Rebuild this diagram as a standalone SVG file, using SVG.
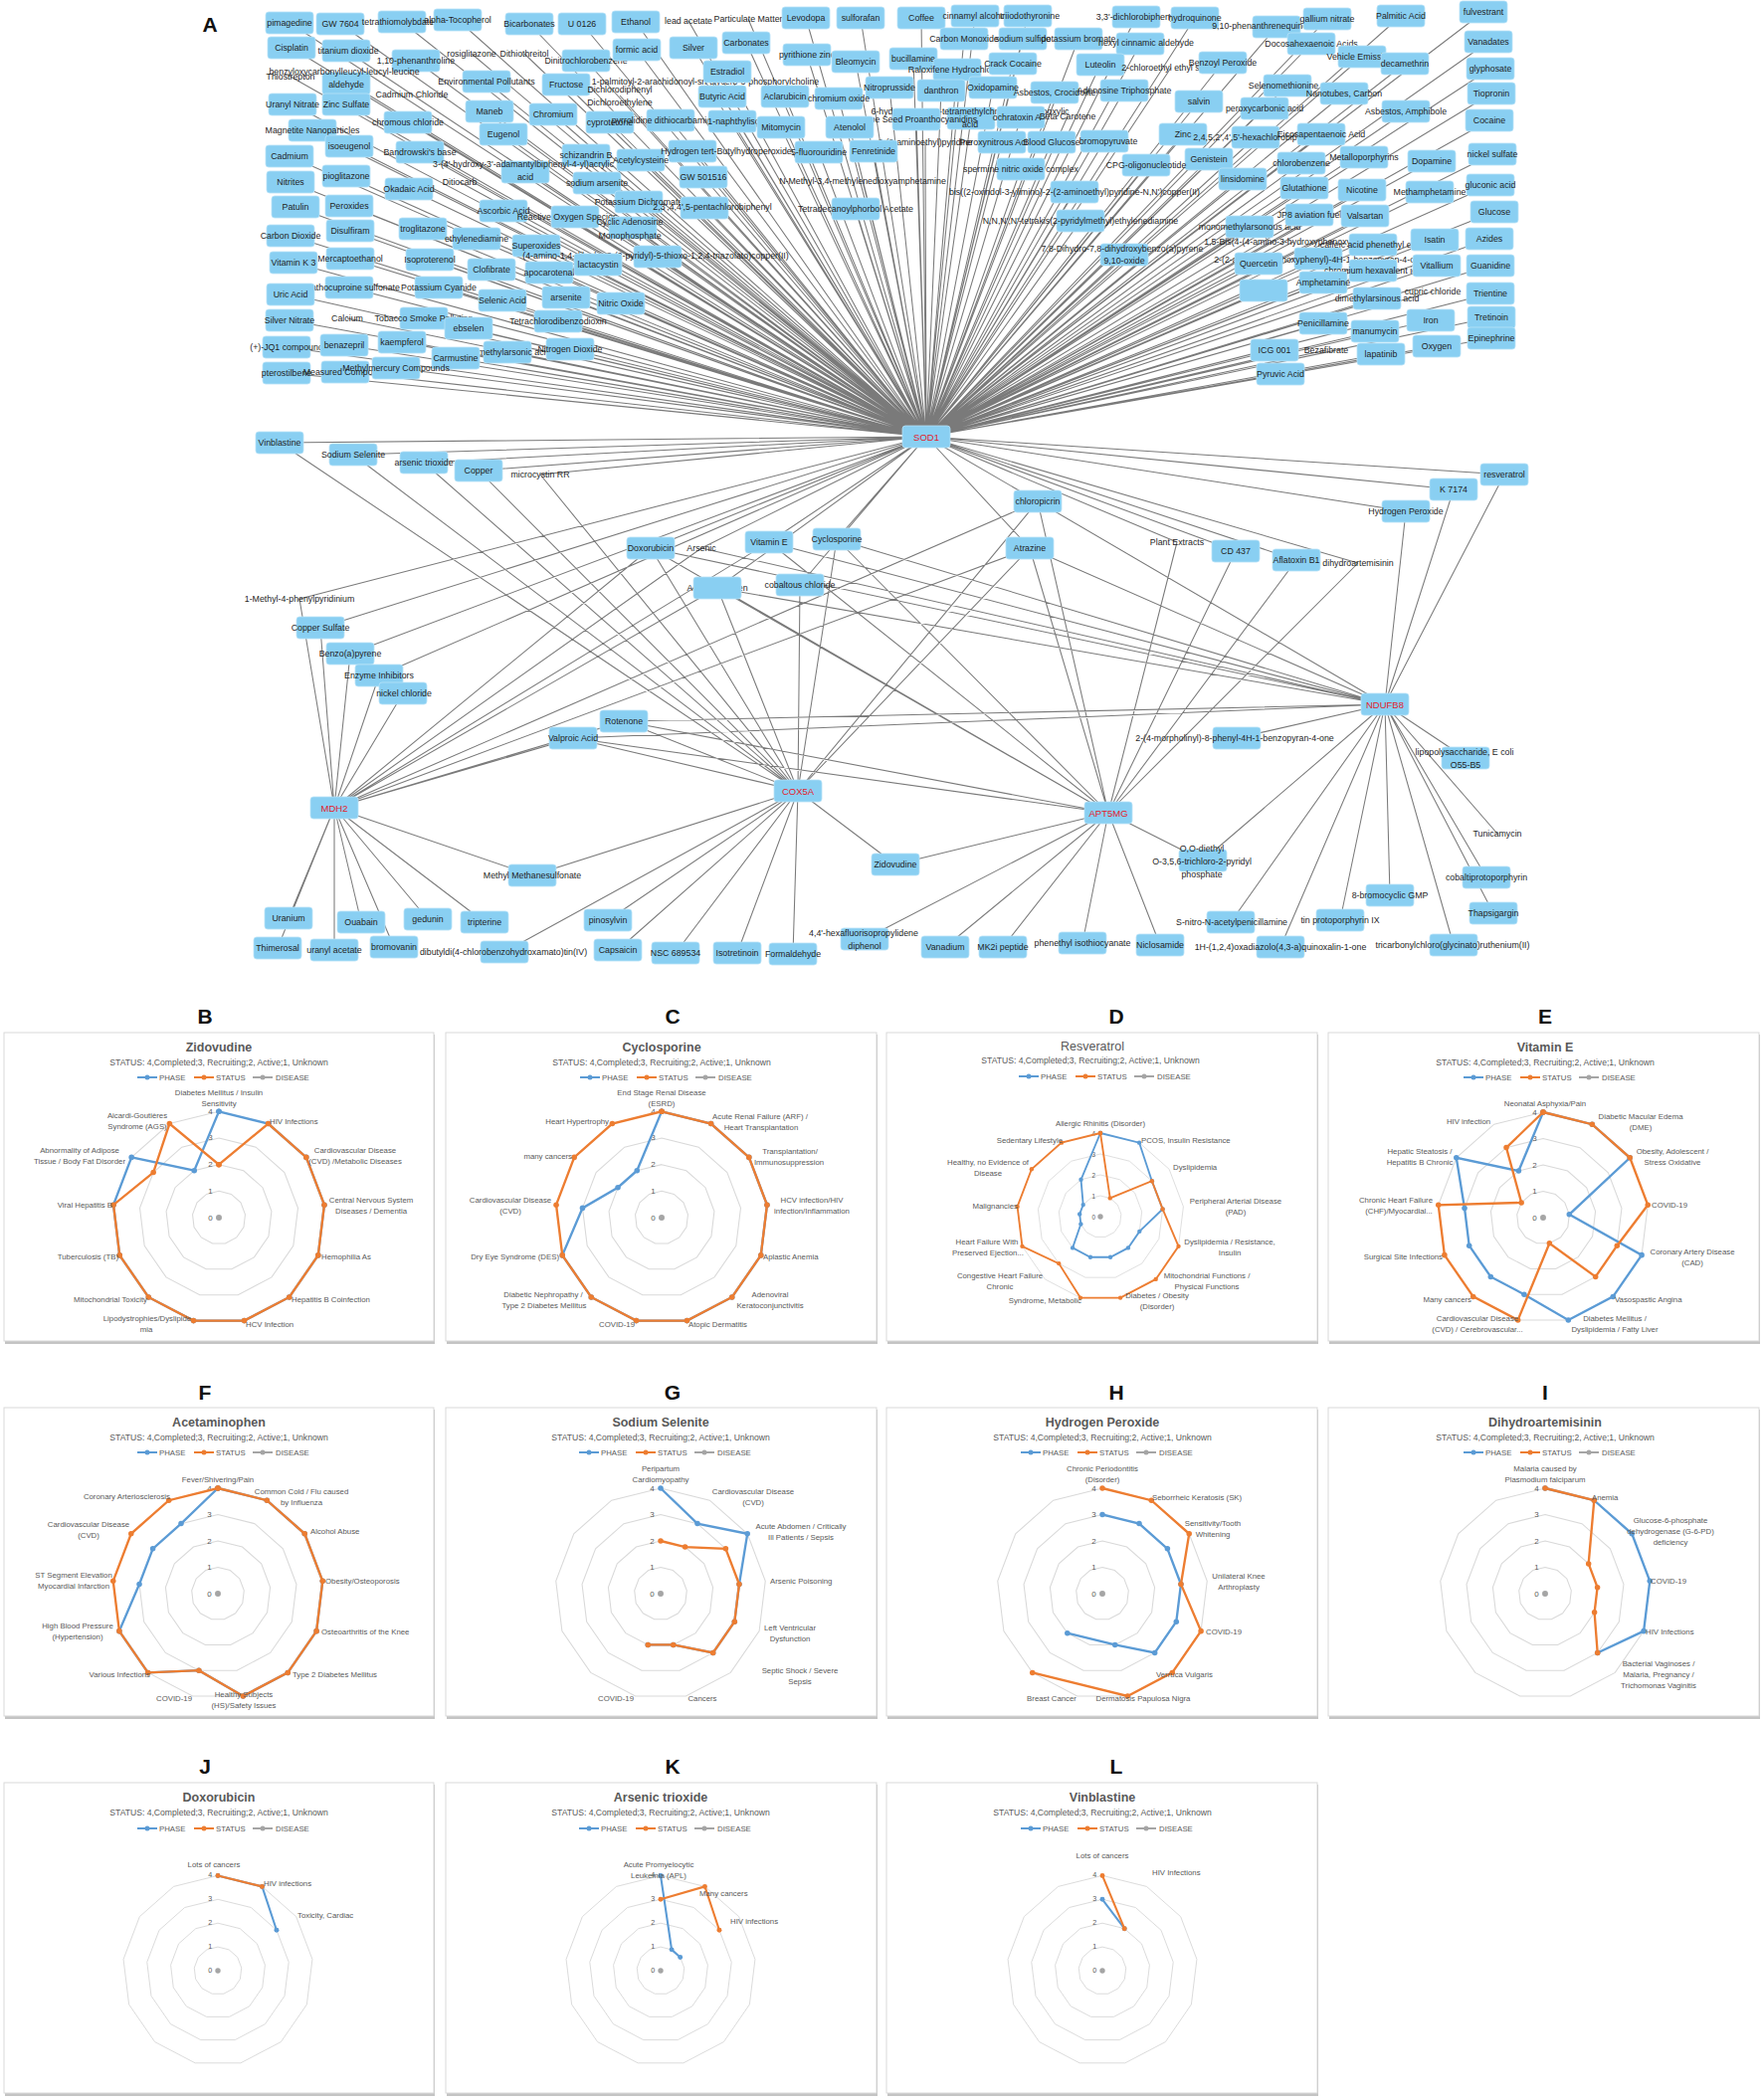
<svg xmlns="http://www.w3.org/2000/svg" xmlns:xlink="http://www.w3.org/1999/xlink" width="1772" height="2111" viewBox="0 0 1772 2111">
<style>
svg text{font-family:"Liberation Sans",Arial,sans-serif;dominant-baseline:central}
.net text{font-size:8.8px;fill:#1e1e1e;text-anchor:middle}
.bx{fill:#89CFF2;stroke:#b8e2f8;stroke-width:0.8}
.net text.gn{fill:#e3202b;font-size:9.5px}
.ed{stroke:#7a7a7a;stroke-width:1.05;fill:none}
.pf{fill:#fff;stroke:#d9d9d9;stroke-width:1}
.sh{fill:#c4c4c4}
.plet{font-size:21px;font-weight:bold;text-anchor:middle;fill:#111}
.pt{font-size:12.5px;font-weight:bold;fill:#595959;text-anchor:middle}
.nb{font-weight:normal}
.ps{font-size:8.6px;fill:#595959;text-anchor:middle}
.lg text{font-size:7.8px;fill:#595959}
.al text{font-size:7.8px;fill:#595959}
.m{text-anchor:middle}.s{text-anchor:start}.e{text-anchor:end}
.vl text{font-size:7.5px;fill:#595959;text-anchor:end}
.grid polygon{fill:none;stroke:#d9d9d9;stroke-width:1}
.ph{fill:none;stroke:#5B9BD5;stroke-width:2.2;marker-start:url(#mB);marker-mid:url(#mB);marker-end:url(#mB)}
.st{fill:none;stroke:#ED7D31;stroke-width:2.2;marker-start:url(#mO);marker-mid:url(#mO);marker-end:url(#mO)}
.dz{fill:#A5A5A5}
</style>
<defs>
<rect id="b" class="bx" width="48" height="22" rx="3"/>
<marker id="mB" viewBox="-3 -3 6 6" markerWidth="6" markerHeight="6" markerUnits="userSpaceOnUse" overflow="visible"><circle r="2.6" fill="#5B9BD5"/></marker>
<marker id="mO" viewBox="-3 -3 6 6" markerWidth="6" markerHeight="6" markerUnits="userSpaceOnUse" overflow="visible"><circle r="2.6" fill="#ED7D31"/></marker>
<g id="grid">
<g class="grid">
<polygon points="0,-100 46.5,-88.5 82.3,-56.8 99.3,-12 93.5,35.5 66.3,74.9 23.9,97.1 -23.9,97.1 -66.3,74.9 -93.5,35.5 -99.3,-12 -82.3,-56.8 -46.5,-88.5"/>
<polygon points="0,-75 34.9,-66.4 61.7,-42.6 74.5,-9 70.1,26.6 49.7,56.1 18,72.8 -18,72.8 -49.7,56.1 -70.1,26.6 -74.5,-9 -61.7,-42.6 -34.9,-66.4"/>
<polygon points="0,-50 23.2,-44.3 41.2,-28.4 49.6,-6 46.8,17.7 33.2,37.4 12,48.5 -12,48.5 -33.2,37.4 -46.8,17.7 -49.6,-6 -41.2,-28.4 -23.2,-44.3"/>
<polygon points="0,-25 11.6,-22.1 20.6,-14.2 24.8,-3 23.4,8.9 16.6,18.7 6,24.3 -6,24.3 -16.6,18.7 -23.4,8.9 -24.8,-3 -20.6,-14.2 -11.6,-22.1"/>
</g>
<g class="vl"><text x="-6" y="-100">4</text><text x="-6" y="-75">3</text><text x="-6" y="-50">2</text><text x="-6" y="-25">1</text><text x="-6" y="0">0</text></g>
</g>
<g id="leg" class="lg">
<line x1="-82" y1="0" x2="-62" y2="0" stroke="#5B9BD5" stroke-width="2"/><circle cx="-72" r="2.5" fill="#5B9BD5"/><text x="-60" y="0">PHASE</text>
<line x1="-25" y1="0" x2="-5" y2="0" stroke="#ED7D31" stroke-width="2"/><circle cx="-15" r="2.5" fill="#ED7D31"/><text x="-3" y="0">STATUS</text>
<line x1="34" y1="0" x2="54" y2="0" stroke="#A5A5A5" stroke-width="2"/><circle cx="44" r="2.5" fill="#A5A5A5"/><text x="57" y="0">DISEASE</text>
</g>
</defs>
<rect width="1772" height="2111" fill="#fff"/>
<text x="211" y="24" class="plet">A</text>

<g id="connectors">
<path class="ed" d="M931 439L291 23M931 439L342 24M931 439L404 22M931 439L460 20M931 439L532 24M931 439L585 24M931 439L639 22M931 439L692 21M931 439L752 19M931 439L810 18M931 439L865 18M931 439L926 18M931 439L980 16M931 439L1033 16M931 439L1142 17M931 439L1201 18M931 439L1283 27M931 439L1334 19M931 439L1408 16M931 439L1491 12M931 439L293 48M931 439L348 51M931 439L418 61M931 439L474 54M931 439L527 54M931 439L589 61M931 439L640 50M931 439L697 48M931 439L750 43M931 439L811 55M931 439L860 62M931 439L918 59M931 439L969 39M931 439L1028 39M931 439L1084 39M931 439L1146 44M931 439L962 70M931 439L1018 64M931 439L1106 65M931 439L1177 68M931 439L1229 63M931 439L1318 44M931 439L1369 57M931 439L1412 64M931 439L1496 42M931 439L1498 69M931 439L348 84M931 439L292 77M931 439L489 82M931 439L569 85M931 439L709 82M931 439L623 96M931 439L731 72M931 439L894 88M931 439L946 91M931 439L998 88M931 439L1060 93M931 439L1130 91M931 439L1205 102M931 439L1294 86M931 439L1271 109M931 439L1351 94M931 439L1413 112M931 439L1499 94M931 439L1497 121M931 439L294 105M931 439L348 105M931 439L414 95M931 439L492 112M931 439L556 115M931 439L726 97M931 439L789 97M931 439L843 99M931 439L976 119M931 439L921 120M931 439L1026 118M931 439L1073 117M931 439L314 131M931 439L410 123M931 439L506 135M931 439L613 123M931 439L674 121M931 439L736 122M931 439L785 128M931 439L854 128M931 439L1189 135M931 439L1262 138M931 439L1328 135M931 439L1007 143M931 439L1057 143M931 439L1110 142M931 439L930 143M931 439L351 147M931 439L422 153M931 439L291 157M931 439L589 156M931 439L644 161M931 439L696 152M931 439L823 153M931 439L878 152M931 439L1215 160M931 439L1308 164M931 439L1371 158M931 439L1439 162M931 439L1500 155M931 439L528 173M931 439L600 184M931 439L348 177M931 439L292 183M931 439L462 183M931 439L411 190M931 439L707 178M931 439L1152 166M931 439L1249 180M931 439L1026 170M931 439L867 182M931 439L1080 193M931 439L1311 189M931 439L1369 191M931 439L1437 193M931 439L1498 186M931 439L297 208M931 439L351 207M931 439L292 237M931 439L352 232M931 439L425 230M931 439L479 240M931 439L506 212M931 439L578 218M931 439L642 203M931 439L636 229M931 439L708 209M931 439L539 247M931 439L661 258M931 439L352 260M931 439L295 264M931 439L432 261M931 439L494 271M931 439L552 274M931 439L601 266M931 439L351 289M931 439L441 289M931 439L292 296M931 439L505 302M931 439L569 299M931 439L624 305M931 439L291 322M931 439L349 320M931 439L426 320M931 439L471 330M931 439L561 323M931 439L288 349M931 439L346 347M931 439L404 344M931 439L510 354M931 439L573 351M931 439L458 360M931 439L288 375M931 439L347 374M931 439L398 370M931 439L860 210M931 439L1086 222M931 439L1130 256M931 439L1256 228M931 439L1300 243M931 439L1325 260M931 439L1265 265M931 439L1270 292M931 439L1281 352M931 439L1287 376M931 439L1316 216M931 439L1372 217M931 439L1502 213M931 439L1380 246M931 439L1442 241M931 439L1497 240M931 439L1380 272M931 439L1444 267M931 439L1498 267M931 439L1330 284M931 439L1384 300M931 439L1440 293M931 439L1498 295M931 439L1330 325M931 439L1382 333M931 439L1438 322M931 439L1499 319M931 439L1499 340M931 439L1333 352M931 439L1388 356M931 439L1444 348"/>
<path class="ed" d="M931 439L281 445M931 439L355 457M931 439L426 465M931 439L481 473M931 439L543 477M931 439L301 602M931 439L322 631M931 439L352 657M931 439L381 679M931 439L654 551M931 439L705 551M931 439L773 545M931 439L841 542M931 439L721 591M931 439L804 588M931 439L1043 504M931 439L1035 551M931 439L1183 545M931 439L1242 554M931 439L1303 563M931 439L1365 566M931 439L1413 514M931 439L1461 492M931 439L1512 477
M336 812L301 602M336 812L322 631M336 812L352 657M336 812L381 679M336 812L405 697M336 812L654 551M336 812L705 551M336 812L773 545M336 812L721 591M336 812L576 742M336 812L627 725M336 812L1043 504M336 812L1035 551M336 812L535 880M336 812L290 923M336 812L279 953M336 812L336 955M336 812L363 927M336 812L396 952M336 812L430 924M336 812L487 927
M802 795L281 445M802 795L355 457M802 795L426 465M802 795L481 473M802 795L543 477M802 795L654 551M802 795L721 591M802 795L804 588M802 795L841 542M802 795L1043 504M802 795L1035 551M802 795L576 742M802 795L627 725M802 795L535 880M802 795L900 869M802 795L507 957M802 795L611 925M802 795L621 955M802 795L679 958M802 795L741 958M802 795L797 959
M1114 817L654 551M1114 817L773 545M1114 817L841 542M1114 817L1043 504M1114 817L1035 551M1114 817L1183 545M1114 817L1242 554M1114 817L1303 563M1114 817L1365 566M1114 817L576 742M1114 817L627 725M1114 817L721 591M1114 817L900 869M1114 817L869 944M1114 817L950 952M1114 817L1008 952M1114 817L1088 948M1114 817L1166 950M1114 817L1209 865
M1392 708L773 545M1392 708L841 542M1392 708L721 591M1392 708L705 551M1392 708L1043 504M1392 708L1035 551M1392 708L1413 514M1392 708L1461 492M1392 708L1512 477M1392 708L627 725M1392 708L576 742M1392 708L654 551M1392 708L1243 742M1392 708L1473 762M1392 708L1505 838M1392 708L1494 882M1392 708L1501 918M1392 708L1397 900M1392 708L1347 925M1392 708L1461 950M1392 708L1287 952M1392 708L1237 927M1392 708L1209 865"/>
</g>

<g id="nodes" class="net">
<g id="n001"><use href="#b" x="267" y="12"/><text x="291" y="23">pimagedine</text></g>
<g id="n002"><use href="#b" x="318" y="13"/><text x="342" y="24">GW 7604</text></g>
<g id="n003"><use href="#b" x="380" y="11"/><text x="400" y="22">tetrathiomolybdate</text></g>
<g id="n004"><use href="#b" x="436" y="9"/><text x="460" y="20">alpha-Tocopherol</text></g>
<g id="n005"><use href="#b" x="508" y="13"/><text x="532" y="24">Bicarbonates</text></g>
<g id="n006"><use href="#b" x="561" y="13"/><text x="585" y="24">U 0126</text></g>
<g id="n007"><use href="#b" x="615" y="11"/><text x="639" y="22">Ethanol</text></g>
<g id="n008"><text x="692" y="21">lead acetate</text></g>
<g id="n009"><text x="752" y="19">Particulate Matter</text></g>
<g id="n010"><use href="#b" x="786" y="7"/><text x="810" y="18">Levodopa</text></g>
<g id="n011"><use href="#b" x="841" y="7"/><text x="865" y="18">sulforafan</text></g>
<g id="n012"><use href="#b" x="902" y="7"/><text x="926" y="18">Coffee</text></g>
<g id="n013"><use href="#b" x="956" y="5"/><text x="980" y="16">cinnamyl alcohol</text></g>
<g id="n014"><use href="#b" x="1009" y="5"/><text x="1035" y="16">triiodothyronine</text></g>
<g id="n015"><use href="#b" x="1118" y="6"/><text x="1142" y="17">3,3'-dichlorobiphenyl</text></g>
<g id="n016"><use href="#b" x="1177" y="7"/><text x="1201" y="18">hydroquinone</text></g>
<g id="n017"><use href="#b" x="1259" y="16"/><text x="1271" y="26">9,10-phenanthrenequinone</text></g>
<g id="n018"><use href="#b" x="1310" y="8"/><text x="1334" y="19">gallium nitrate</text></g>
<g id="n019"><use href="#b" x="1384" y="5"/><text x="1408" y="16">Palmitic Acid</text></g>
<g id="n020"><use href="#b" x="1467" y="1"/><text x="1491" y="12">fulvestrant</text></g>
<g id="n021"><use href="#b" x="269" y="37"/><text x="293" y="48">Cisplatin</text></g>
<g id="n022"><use href="#b" x="324" y="40"/><text x="350" y="51">titanium dioxide</text></g>
<g id="n023"><use href="#b" x="394" y="50"/><text x="418" y="61">1,10-phenanthroline</text></g>
<g id="n024"><text x="474" y="54">rosiglitazone</text></g>
<g id="n025"><text x="527" y="54">Dithiothreitol</text></g>
<g id="n026"><use href="#b" x="565" y="50"/><text x="589" y="61">Dinitrochlorobenzene</text></g>
<g id="n027"><use href="#b" x="616" y="39"/><text x="640" y="50">formic acid</text></g>
<g id="n028"><use href="#b" x="673" y="37"/><text x="697" y="48">Silver</text></g>
<g id="n029"><use href="#b" x="726" y="32"/><text x="750" y="43">Carbonates</text></g>
<g id="n030"><use href="#b" x="787" y="44"/><text x="811" y="55">pyrithione zinc</text></g>
<g id="n031"><use href="#b" x="836" y="51"/><text x="860" y="62">Bleomycin</text></g>
<g id="n032"><use href="#b" x="894" y="48"/><text x="918" y="59">bucillamine</text></g>
<g id="n033"><use href="#b" x="945" y="28"/><text x="969" y="39">Carbon Monoxide</text></g>
<g id="n034"><use href="#b" x="1004" y="28"/><text x="1028" y="39">sodium sulfide</text></g>
<g id="n035"><use href="#b" x="1060" y="28"/><text x="1084" y="39">potassium bromate</text></g>
<g id="n036"><use href="#b" x="1122" y="33"/><text x="1152" y="43">hexyl cinnamic aldehyde</text></g>
<g id="n037"><use href="#b" x="938" y="59"/><text x="962" y="70">Raloxifene Hydrochloride</text></g>
<g id="n038"><use href="#b" x="994" y="53"/><text x="1018" y="64">Crack Cocaine</text></g>
<g id="n039"><use href="#b" x="1082" y="54"/><text x="1106" y="65">Luteolin</text></g>
<g id="n040"><text x="1177" y="68">2-chloroethyl ethyl sulfide</text></g>
<g id="n041"><use href="#b" x="1205" y="52"/><text x="1229" y="63">Benzoyl Peroxide</text></g>
<g id="n042"><use href="#b" x="1294" y="33"/><text x="1318" y="44">Docosahexaenoic Acids</text></g>
<g id="n043"><use href="#b" x="1345" y="46"/><text x="1369" y="57">Vehicle Emissions</text></g>
<g id="n044"><use href="#b" x="1388" y="53"/><text x="1412" y="64">decamethrin</text></g>
<g id="n045"><use href="#b" x="1472" y="31"/><text x="1496" y="42">Vanadates</text></g>
<g id="n046"><use href="#b" x="1474" y="58"/><text x="1498" y="69">glyphosate</text></g>
<g id="n047"><use href="#b" x="324" y="73"/><text x="346" y="72">benzyloxycarbonylleucyl-leucyl-leucine</text><text x="348" y="85">aldehyde</text></g>
<g id="n048"><text x="292" y="77">Thiostrepton</text></g>
<g id="n049"><use href="#b" x="465" y="71"/><text x="489" y="82">Environmental Pollutants</text></g>
<g id="n050"><use href="#b" x="545" y="74"/><text x="569" y="85">Fructose</text></g>
<g id="n051"><text x="709" y="82">1-palmitoyl-2-arachidonoyl-sn-glycero-3-phosphorylcholine</text></g>
<g id="n052"><text x="623" y="90">Dichlorodiphenyl</text><text x="623" y="103">Dichloroethylene</text></g>
<g id="n053"><use href="#b" x="707" y="61"/><text x="731" y="72">Estradiol</text></g>
<g id="n054"><use href="#b" x="870" y="77"/><text x="894" y="88">Nitroprusside</text></g>
<g id="n055"><use href="#b" x="922" y="80"/><text x="946" y="91">danthron</text></g>
<g id="n056"><use href="#b" x="974" y="77"/><text x="998" y="88">Oxidopamine</text></g>
<g id="n057"><use href="#b" x="1036" y="82"/><text x="1060" y="93">Asbestos, Crocidolite</text></g>
<g id="n058"><use href="#b" x="1106" y="80"/><text x="1130" y="91">Adenosine Triphosphate</text></g>
<g id="n059"><use href="#b" x="1181" y="91"/><text x="1205" y="102">salvin</text></g>
<g id="n060"><use href="#b" x="1270" y="75"/><text x="1290" y="86">Selenomethionine</text></g>
<g id="n061"><use href="#b" x="1247" y="98"/><text x="1271" y="109">peroxycarbonic acid</text></g>
<g id="n062"><use href="#b" x="1327" y="83"/><text x="1351" y="94">Nanotubes, Carbon</text></g>
<g id="n063"><use href="#b" x="1389" y="101"/><text x="1413" y="112">Asbestos, Amphibole</text></g>
<g id="n064"><use href="#b" x="1475" y="83"/><text x="1499" y="94">Tiopronin</text></g>
<g id="n065"><use href="#b" x="1473" y="110"/><text x="1497" y="121">Cocaine</text></g>
<g id="n066"><use href="#b" x="270" y="94"/><text x="294" y="105">Uranyl Nitrate</text></g>
<g id="n067"><use href="#b" x="324" y="94"/><text x="348" y="105">Zinc Sulfate</text></g>
<g id="n068"><text x="414" y="95">Cadmium Chloride</text></g>
<g id="n069"><use href="#b" x="468" y="101"/><text x="492" y="112">Maneb</text></g>
<g id="n070"><use href="#b" x="532" y="104"/><text x="556" y="115">Chromium</text></g>
<g id="n071"><use href="#b" x="702" y="86"/><text x="726" y="97">Butyric Acid</text></g>
<g id="n072"><use href="#b" x="765" y="86"/><text x="789" y="97">Aclarubicin</text></g>
<g id="n073"><use href="#b" x="819" y="88"/><text x="843" y="99">chromium oxide</text></g>
<g id="n074"><use href="#b" x="952" y="108"/><text x="975" y="112">6-hydroxy-2,5,7,8-tetramethylchroman-2-carboxylic</text><text x="975" y="125">acid</text></g>
<g id="n075"><use href="#b" x="897" y="109"/><text x="921" y="120">Grape Seed Proanthocyanidins</text></g>
<g id="n076"><use href="#b" x="1002" y="107"/><text x="1022" y="118">ochratoxin A</text></g>
<g id="n077"><text x="1073" y="117">Beta Carotene</text></g>
<g id="n078"><use href="#b" x="290" y="120"/><text x="314" y="131">Magnetite Nanoparticles</text></g>
<g id="n079"><use href="#b" x="386" y="112"/><text x="410" y="123">chromous chloride</text></g>
<g id="n080"><use href="#b" x="482" y="124"/><text x="506" y="135">Eugenol</text></g>
<g id="n081"><use href="#b" x="589" y="112"/><text x="613" y="123">cyproterone</text></g>
<g id="n082"><use href="#b" x="650" y="110"/><text x="674" y="121">pyrrolidine dithiocarbamic acid</text></g>
<g id="n083"><use href="#b" x="712" y="111"/><text x="760" y="122">1-naphthylisothiocyanate</text></g>
<g id="n084"><use href="#b" x="761" y="117"/><text x="785" y="128">Mitomycin</text></g>
<g id="n085"><use href="#b" x="830" y="117"/><text x="854" y="128">Atenolol</text></g>
<g id="n086"><use href="#b" x="1165" y="124"/><text x="1189" y="135">Zinc</text></g>
<g id="n087"><use href="#b" x="1238" y="127"/><text x="1262" y="138">2,4,5,2',4',5'-hexachlorobiphenyl</text></g>
<g id="n088"><use href="#b" x="1304" y="124"/><text x="1328" y="135">Eicosapentaenoic Acid</text></g>
<g id="n089"><use href="#b" x="983" y="132"/><text x="1001" y="143">Peroxynitrous Acid</text></g>
<g id="n090"><use href="#b" x="1033" y="132"/><text x="1057" y="143">Blood Glucose</text></g>
<g id="n091"><use href="#b" x="1086" y="131"/><text x="1114" y="142">bromopyruvate</text></g>
<g id="n092"><text x="930" y="143">2-(2-aminoethyl)pyridine</text></g>
<g id="n093"><use href="#b" x="327" y="136"/><text x="351" y="147">isoeugenol</text></g>
<g id="n094"><use href="#b" x="398" y="142"/><text x="422" y="153">Bandrowski's base</text></g>
<g id="n095"><use href="#b" x="267" y="146"/><text x="291" y="157">Cadmium</text></g>
<g id="n096"><use href="#b" x="565" y="145"/><text x="589" y="156">schizandrin B</text></g>
<g id="n097"><use href="#b" x="620" y="150"/><text x="644" y="161">Acetylcysteine</text></g>
<g id="n098"><use href="#b" x="672" y="141"/><text x="730" y="152">Hydrogen tert-Butylhydroperoxide</text></g>
<g id="n099"><use href="#b" x="799" y="142"/><text x="823" y="153">5-fluorouridine</text></g>
<g id="n100"><use href="#b" x="854" y="141"/><text x="878" y="152">Fenretinide</text></g>
<g id="n101"><use href="#b" x="1191" y="149"/><text x="1215" y="160">Genistein</text></g>
<g id="n102"><use href="#b" x="1284" y="153"/><text x="1308" y="164">chlorobenzene</text></g>
<g id="n103"><use href="#b" x="1347" y="147"/><text x="1371" y="158">Metalloporphyrins</text></g>
<g id="n104"><use href="#b" x="1415" y="151"/><text x="1439" y="162">Dopamine</text></g>
<g id="n105"><use href="#b" x="1476" y="144"/><text x="1500" y="155">nickel sulfate</text></g>
<g id="n106"><use href="#b" x="504" y="162"/><text x="526" y="165">3-(4'-hydroxy-3'-adamantylbiphenyl-4-yl)acrylic</text><text x="528" y="178">acid</text></g>
<g id="n107"><use href="#b" x="576" y="173"/><text x="600" y="184">sodium arsenite</text></g>
<g id="n108"><use href="#b" x="324" y="166"/><text x="348" y="177">pioglitazone</text></g>
<g id="n109"><use href="#b" x="268" y="172"/><text x="292" y="183">Nitrites</text></g>
<g id="n110"><text x="462" y="183">Ditiocarb</text></g>
<g id="n111"><use href="#b" x="387" y="179"/><text x="411" y="190">Okadaic Acid</text></g>
<g id="n112"><use href="#b" x="683" y="167"/><text x="707" y="178">GW 501516</text></g>
<g id="n113"><use href="#b" x="1128" y="155"/><text x="1152" y="166">CPG-oligonucleotide</text></g>
<g id="n114"><use href="#b" x="1225" y="169"/><text x="1249" y="180">linsidomine</text></g>
<g id="n115"><use href="#b" x="1002" y="159"/><text x="1026" y="170">spermine nitric oxide complex</text></g>
<g id="n116"><text x="867" y="182">N-Methyl-3,4-methylenedioxyamphetamine</text></g>
<g id="n117"><use href="#b" x="1056" y="182"/><text x="1080" y="193">bis((2-oxindol-3-ylimino)-2-(2-aminoethyl)pyridine-N,N')copper(II)</text></g>
<g id="n118"><use href="#b" x="1287" y="178"/><text x="1311" y="189">Glutathione</text></g>
<g id="n119"><use href="#b" x="1345" y="180"/><text x="1369" y="191">Nicotine</text></g>
<g id="n120"><use href="#b" x="1413" y="182"/><text x="1437" y="193">Methamphetamine</text></g>
<g id="n121"><use href="#b" x="1474" y="175"/><text x="1498" y="186">gluconic acid</text></g>
<g id="n122"><use href="#b" x="273" y="197"/><text x="297" y="208">Patulin</text></g>
<g id="n123"><use href="#b" x="327" y="196"/><text x="351" y="207">Peroxides</text></g>
<g id="n124"><use href="#b" x="268" y="226"/><text x="292" y="237">Carbon Dioxide</text></g>
<g id="n125"><use href="#b" x="328" y="221"/><text x="352" y="232">Disulfiram</text></g>
<g id="n126"><use href="#b" x="401" y="219"/><text x="425" y="230">troglitazone</text></g>
<g id="n127"><use href="#b" x="455" y="229"/><text x="479" y="240">ethylenediamine</text></g>
<g id="n128"><use href="#b" x="482" y="201"/><text x="506" y="212">Ascorbic Acid</text></g>
<g id="n129"><use href="#b" x="554" y="207"/><text x="570" y="218">Reactive Oxygen Species</text></g>
<g id="n130"><use href="#b" x="618" y="192"/><text x="642" y="203">Potassium Dichromate</text></g>
<g id="n131"><use href="#b" x="612" y="218"/><text x="633" y="223">Cyclic Adenosine</text><text x="633" y="237">Monophosphate</text></g>
<g id="n132"><use href="#b" x="684" y="198"/><text x="716" y="208">2,3',4,4',5-pentachlorobiphenyl</text></g>
<g id="n133"><use href="#b" x="515" y="236"/><text x="539" y="247">Superoxides</text></g>
<g id="n134"><use href="#b" x="637" y="247"/><text x="659" y="257">(4-amino-1,4-dihydro-3-(2-pyridyl)-5-thioxo-1,2,4-triazolato)copper(II)</text></g>
<g id="n135"><use href="#b" x="328" y="249"/><text x="352" y="260">Mercaptoethanol</text></g>
<g id="n136"><use href="#b" x="271" y="253"/><text x="295" y="264">Vitamin K 3</text></g>
<g id="n137"><use href="#b" x="408" y="250"/><text x="432" y="261">Isoproterenol</text></g>
<g id="n138"><use href="#b" x="470" y="260"/><text x="494" y="271">Clofibrate</text></g>
<g id="n139"><use href="#b" x="528" y="263"/><text x="552" y="274">apocarotenal</text></g>
<g id="n140"><use href="#b" x="577" y="255"/><text x="601" y="266">lactacystin</text></g>
<g id="n141"><use href="#b" x="327" y="278"/><text x="355" y="289">bathocuproine sulfonate</text></g>
<g id="n142"><use href="#b" x="417" y="278"/><text x="441" y="289">Potassium Cyanide</text></g>
<g id="n143"><use href="#b" x="268" y="285"/><text x="292" y="296">Uric Acid</text></g>
<g id="n144"><use href="#b" x="481" y="291"/><text x="505" y="302">Selenic Acid</text></g>
<g id="n145"><use href="#b" x="545" y="288"/><text x="569" y="299">arsenite</text></g>
<g id="n146"><use href="#b" x="600" y="294"/><text x="624" y="305">Nitric Oxide</text></g>
<g id="n147"><use href="#b" x="267" y="311"/><text x="291" y="322">Silver Nitrate</text></g>
<g id="n148"><text x="349" y="320">Calcium</text></g>
<g id="n149"><use href="#b" x="402" y="309"/><text x="426" y="320">Tobacco Smoke Pollution</text></g>
<g id="n150"><use href="#b" x="447" y="319"/><text x="471" y="330">ebselen</text></g>
<g id="n151"><use href="#b" x="537" y="312"/><text x="561" y="323">Tetrachlorodibenzodioxin</text></g>
<g id="n152"><use href="#b" x="264" y="338"/><text x="288" y="349">(+)-JQ1 compound</text></g>
<g id="n153"><use href="#b" x="322" y="336"/><text x="346" y="347">benazepril</text></g>
<g id="n154"><use href="#b" x="380" y="333"/><text x="404" y="344">kaempferol</text></g>
<g id="n155"><use href="#b" x="486" y="343"/><text x="506" y="354">monomethylarsonic acid</text></g>
<g id="n156"><use href="#b" x="549" y="340"/><text x="573" y="351">Nitrogen Dioxide</text></g>
<g id="n157"><use href="#b" x="434" y="349"/><text x="458" y="360">Carmustine</text></g>
<g id="n158"><use href="#b" x="264" y="364"/><text x="288" y="375">pterostilbene</text></g>
<g id="n159"><use href="#b" x="323" y="363"/><text x="347" y="374">Measured Compound</text></g>
<g id="n160"><use href="#b" x="374" y="359"/><text x="398" y="370">Methylmercury Compounds</text></g>
<g id="n161"><use href="#b" x="836" y="199"/><text x="860" y="210">Tetradecanoylphorbol Acetate</text></g>
<g id="n162"><use href="#b" x="1062" y="211"/><text x="1086" y="222">N,N,N',N'-tetrakis(2-pyridylmethyl)ethylenediamine</text></g>
<g id="n163"><use href="#b" x="1106" y="245"/><text x="1128" y="250">7,8-Dihydro-7,8-dihydroxybenzo(a)pyrene</text><text x="1130" y="262">9,10-oxide</text></g>
<g id="n164"><use href="#b" x="1232" y="217"/><text x="1256" y="228">monomethylarsonous acid</text></g>
<g id="n165"><text x="1300" y="243">1,5-Bis(4-(4-amino-3-hydroxyphenoxy)phenyl)</text></g>
<g id="n166"><use href="#b" x="1301" y="249"/><text x="1326" y="261">2-(2-amino-3-methoxyphenyl)-4H-1-benzopyran-4-one</text></g>
<g id="n167"><use href="#b" x="1241" y="254"/><text x="1265" y="265">Quercetin</text></g>
<g id="n168"><use href="#b" x="1246" y="281"/></g>
<g id="n169"><use href="#b" x="1257" y="341"/><text x="1281" y="352">ICG 001</text></g>
<g id="n170"><use href="#b" x="1263" y="365"/><text x="1287" y="376">Pyruvic Acid</text></g>
<g id="n171"><use href="#b" x="1292" y="205"/><text x="1316" y="216">JP8 aviation fuel</text></g>
<g id="n172"><use href="#b" x="1348" y="206"/><text x="1372" y="217">Valsartan</text></g>
<g id="n173"><use href="#b" x="1478" y="202"/><text x="1502" y="213">Glucose</text></g>
<g id="n174"><use href="#b" x="1356" y="235"/><text x="1380" y="246">caffeic acid phenethyl ester</text></g>
<g id="n175"><use href="#b" x="1418" y="230"/><text x="1442" y="241">Isatin</text></g>
<g id="n176"><use href="#b" x="1473" y="229"/><text x="1497" y="240">Azides</text></g>
<g id="n177"><use href="#b" x="1356" y="261"/><text x="1380" y="272">chromium hexavalent ion</text></g>
<g id="n178"><use href="#b" x="1420" y="256"/><text x="1444" y="267">Vitallium</text></g>
<g id="n179"><use href="#b" x="1474" y="256"/><text x="1498" y="267">Guanidine</text></g>
<g id="n180"><use href="#b" x="1306" y="273"/><text x="1330" y="284">Amphetamine</text></g>
<g id="n181"><use href="#b" x="1360" y="289"/><text x="1384" y="300">dimethylarsinous acid</text></g>
<g id="n182"><text x="1440" y="293">cupric chloride</text></g>
<g id="n183"><use href="#b" x="1474" y="284"/><text x="1498" y="295">Trientine</text></g>
<g id="n184"><use href="#b" x="1306" y="314"/><text x="1330" y="325">Penicillamine</text></g>
<g id="n185"><use href="#b" x="1358" y="322"/><text x="1382" y="333">manumycin</text></g>
<g id="n186"><use href="#b" x="1414" y="311"/><text x="1438" y="322">Iron</text></g>
<g id="n187"><use href="#b" x="1475" y="308"/><text x="1499" y="319">Tretinoin</text></g>
<g id="n188"><use href="#b" x="1475" y="329"/><text x="1499" y="340">Epinephrine</text></g>
<g id="n189"><text x="1333" y="352">Bezafibrate</text></g>
<g id="n190"><use href="#b" x="1364" y="345"/><text x="1388" y="356">lapatinib</text></g>
<g id="n191"><use href="#b" x="1420" y="337"/><text x="1444" y="348">Oxygen</text></g>

<g id="SOD1"><use href="#b" x="907" y="428"/><text class="gn" x="931" y="439">SOD1</text></g>
<g id="MDH2"><use href="#b" x="312" y="801"/><text class="gn" x="336" y="812">MDH2</text></g>
<g id="COX5A"><use href="#b" x="778" y="784"/><text class="gn" x="802" y="795">COX5A</text></g>
<g id="APT5MG"><use href="#b" x="1090" y="806"/><text class="gn" x="1114" y="817">APT5MG</text></g>
<g id="NDUFB8"><use href="#b" x="1368" y="697"/><text class="gn" x="1392" y="708">NDUFB8</text></g>
<g id="m01"><use href="#b" x="257" y="434"/><text x="281" y="445">Vinblastine</text></g>
<g id="m02"><use href="#b" x="331" y="446"/><text x="355" y="457">Sodium Selenite</text></g>
<g id="m03"><use href="#b" x="402" y="454"/><text x="426" y="465">arsenic trioxide</text></g>
<g id="m04"><use href="#b" x="457" y="462"/><text x="481" y="473">Copper</text></g>
<g id="m05"><text x="543" y="477">microcystin RR</text></g>
<g id="m06"><use href="#b" x="630" y="540"/><text x="654" y="551">Doxorubicin</text></g>
<g id="m07"><text x="705" y="551">Arsenic</text></g>
<g id="m08"><use href="#b" x="749" y="534"/><text x="773" y="545">Vitamin E</text></g>
<g id="m09"><use href="#b" x="817" y="531"/><text x="841" y="542">Cyclosporine</text></g>
<g id="m10"><text x="721" y="591">Acetaminophen</text><use href="#b" x="697" y="580"/></g>
<g id="m11"><use href="#b" x="780" y="577"/><text x="804" y="588">cobaltous chloride</text></g>
<g id="m12"><text x="301" y="602">1-Methyl-4-phenylpyridinium</text></g>
<g id="m13"><use href="#b" x="298" y="620"/><text x="322" y="631">Copper Sulfate</text></g>
<g id="m14"><use href="#b" x="328" y="646"/><text x="352" y="657">Benzo(a)pyrene</text></g>
<g id="m15"><use href="#b" x="357" y="668"/><text x="381" y="679">Enzyme Inhibitors</text></g>
<g id="m16"><use href="#b" x="381" y="686"/><text x="406" y="697">nickel chloride</text></g>
<g id="m17"><use href="#b" x="1019" y="493"/><text x="1043" y="504">chloropicrin</text></g>
<g id="m18"><use href="#b" x="1011" y="540"/><text x="1035" y="551">Atrazine</text></g>
<g id="m19"><text x="1183" y="545">Plant Extracts</text></g>
<g id="m20"><use href="#b" x="1218" y="543"/><text x="1242" y="554">CD 437</text></g>
<g id="m21"><use href="#b" x="1279" y="552"/><text x="1303" y="563">Aflatoxin B1</text></g>
<g id="m22"><text x="1365" y="566">dihydroartemisinin</text></g>
<g id="m23"><use href="#b" x="1389" y="503"/><text x="1413" y="514">Hydrogen Peroxide</text></g>
<g id="m24"><use href="#b" x="1437" y="481"/><text x="1461" y="492">K 7174</text></g>
<g id="m25"><use href="#b" x="1488" y="466"/><text x="1512" y="477">resveratrol</text></g>
<g id="m26"><use href="#b" x="603" y="714"/><text x="627" y="725">Rotenone</text></g>
<g id="m27"><use href="#b" x="552" y="731"/><text x="576" y="742">Valproic Acid</text></g>
<g id="m28"><use href="#b" x="511" y="869"/><text x="535" y="880">Methyl Methanesulfonate</text></g>
<g id="m29"><use href="#b" x="876" y="858"/><text x="900" y="869">Zidovudine</text></g>
<g id="m30"><use href="#b" x="266" y="912"/><text x="290" y="923">Uranium</text></g>
<g id="m31"><use href="#b" x="339" y="916"/><text x="363" y="927">Ouabain</text></g>
<g id="m32"><use href="#b" x="406" y="913"/><text x="430" y="924">gedunin</text></g>
<g id="m33"><use href="#b" x="463" y="916"/><text x="487" y="927">tripterine</text></g>
<g id="m34"><use href="#b" x="587" y="914"/><text x="611" y="925">pinosylvin</text></g>
<g id="m35"><use href="#b" x="255" y="942"/><text x="279" y="953">Thimerosal</text></g>
<g id="m36"><use href="#b" x="312" y="944"/><text x="336" y="955">uranyl acetate</text></g>
<g id="m37"><use href="#b" x="372" y="941"/><text x="396" y="952">bromovanin</text></g>
<g id="m38"><use href="#b" x="483" y="946"/><text x="506" y="957">dibutyldi(4-chlorobenzohydroxamato)tin(IV)</text></g>
<g id="m39"><use href="#b" x="597" y="944"/><text x="621" y="955">Capsaicin</text></g>
<g id="m40"><use href="#b" x="655" y="947"/><text x="679" y="958">NSC 689534</text></g>
<g id="m41"><use href="#b" x="717" y="947"/><text x="741" y="958">Isotretinoin</text></g>
<g id="m42"><use href="#b" x="773" y="948"/><text x="797" y="959">Formaldehyde</text></g>
<g id="m43"><use href="#b" x="845" y="933"/><text x="868" y="938">4,4'-hexafluorisopropylidene</text><text x="869" y="951">diphenol</text></g>
<g id="m44"><use href="#b" x="926" y="941"/><text x="950" y="952">Vanadium</text></g>
<g id="m45"><use href="#b" x="984" y="941"/><text x="1008" y="952">MK2i peptide</text></g>
<g id="m46"><use href="#b" x="1064" y="937"/><text x="1088" y="948">phenethyl isothiocyanate</text></g>
<g id="m47"><use href="#b" x="1142" y="939"/><text x="1166" y="950">Niclosamide</text></g>
<g id="m48"><use href="#b" x="1219" y="731"/><text x="1241" y="742">2-(4-morpholinyl)-8-phenyl-4H-1-benzopyran-4-one</text></g>
<g id="m49"><use href="#b" x="1449" y="751"/><text x="1472" y="756">lipopolysaccharide, E coli</text><text x="1473" y="769">O55-B5</text></g>
<g id="m50"><use href="#b" x="1185" y="854"/><text x="1208" y="853">O,O-diethyl</text><text x="1208" y="866">O-3,5,6-trichloro-2-pyridyl</text><text x="1208" y="879">phosphate</text></g>
<g id="m51"><text x="1505" y="838">Tunicamycin</text></g>
<g id="m52"><use href="#b" x="1470" y="871"/><text x="1494" y="882">cobaltiprotoporphyrin</text></g>
<g id="m53"><use href="#b" x="1373" y="889"/><text x="1397" y="900">8-bromocyclic GMP</text></g>
<g id="m54"><use href="#b" x="1477" y="907"/><text x="1501" y="918">Thapsigargin</text></g>
<g id="m55"><use href="#b" x="1213" y="916"/><text x="1238" y="927">S-nitro-N-acetylpenicillamine</text></g>
<g id="m56"><use href="#b" x="1323" y="914"/><text x="1347" y="925">tin protoporphyrin IX</text></g>
<g id="m57"><use href="#b" x="1263" y="941"/><text x="1287" y="952">1H-(1,2,4)oxadiazolo(4,3-a)quinoxalin-1-one</text></g>
<g id="m58"><use href="#b" x="1437" y="939"/><text x="1460" y="950">tricarbonylchloro(glycinato)ruthenium(II)</text></g>
</g>

<!-- Row 1 -->
<g id="panel-B">
<rect class="sh" x="5" y="1040" width="432" height="311"/><rect class="pf" x="4" y="1038" width="432" height="310"/>
<text class="plet" x="206" y="1021">B</text>
<text class="pt" x="220" y="1053">Zidovudine</text>
<text class="ps" x="220" y="1068">STATUS: 4,Completed;3, Recruiting;2, Active;1, Unknown</text>
<use href="#leg" x="220" y="1083"/>
<g transform="translate(220,1224) scale(1.067)"><use href="#grid"/>
<polygon class="ph" points="0,-100 46.5,-88.5 82.3,-56.8 99.3,-12 93.5,35.5 66.3,74.9 23.9,97.1 -23.9,97.1 -66.3,74.9 -93.5,35.5 -99.3,-12 -82.3,-56.8 -23.2,-44.3"/>
<polygon class="st" points="0,-50 46.5,-88.5 82.3,-56.8 99.3,-12 93.5,35.5 66.3,74.9 23.9,97.1 -23.9,97.1 -66.3,74.9 -93.5,35.5 -99.3,-12 -61.7,-42.6 -46.5,-88.5"/>
<circle class="dz" r="2.8"/></g>
<g class="al">
<text class="m" x="220" y="1098">Diabetes Mellitus / Insulin</text><text class="m" x="220" y="1109">Sensitivity</text>
<text class="s" x="271" y="1127">HIV Infections</text>
<text class="m" x="357" y="1156">Cardiovascular Disease</text><text class="m" x="357" y="1167">(CVD) /Metabolic Diseases</text>
<text class="m" x="373" y="1206">Central Nervous System</text><text class="m" x="373" y="1217">Diseases / Dementia</text>
<text class="s" x="323" y="1263">Hemophilia As</text>
<text class="s" x="293" y="1306">Hepatitis B Coinfection</text>
<text class="s" x="247" y="1331">HCV Infection</text>
<text class="m" x="148" y="1325">Lipodystrophies/Dyslipide</text><text class="m" x="147" y="1336">mia</text>
<text class="e" x="148" y="1306">Mitochondrial Toxicity</text>
<text class="e" x="119" y="1263">Tuberculosis (TB)</text>
<text class="e" x="113" y="1211">Viral Hepatitis B</text>
<text class="m" x="80" y="1156">Abnormality of Adipose</text><text class="m" x="80" y="1167">Tissue / Body Fat Disorder</text>
<text class="m" x="138" y="1121">Aicardi-Goutières</text><text class="m" x="138" y="1132">Syndrome (AGS)</text>
</g>
</g>

<g id="panel-C">
<rect class="sh" x="449" y="1040" width="433" height="311"/><rect class="pf" x="448" y="1038" width="433" height="310"/>
<text class="plet" x="676" y="1021">C</text>
<text class="pt" x="665" y="1053">Cyclosporine</text>
<text class="ps" x="665" y="1068">STATUS: 4,Completed;3, Recruiting;2, Active;1, Unknown</text>
<use href="#leg" x="665" y="1083"/>
<g transform="translate(665,1224) scale(1.067)"><use href="#grid"/>
<polygon class="ph" points="0,-100 46.5,-88.5 82.3,-56.8 99.3,-12 93.5,35.5 66.3,74.9 23.9,97.1 -23.9,97.1 -66.3,74.9 -93.5,35.5 -74.5,-9 -41.2,-28.4 -23.2,-44.3"/>
<polygon class="st" points="0,-100 46.5,-88.5 82.3,-56.8 99.3,-12 93.5,35.5 66.3,74.9 23.9,97.1 -23.9,97.1 -66.3,74.9 -93.5,35.5 -99.3,-12 -82.3,-56.8 -46.5,-88.5"/>
<circle class="dz" r="2.8"/></g>
<g class="al">
<text class="m" x="665" y="1098">End Stage Renal Disease</text><text class="m" x="665" y="1109">(ESRD)</text>
<text class="m" x="764" y="1122">Acute Renal Failure (ARF) /</text><text class="m" x="765" y="1133">Heart Transplantation</text>
<text class="m" x="794" y="1157">Transplantation/</text><text class="m" x="793" y="1168">Immunosuppression</text>
<text class="m" x="816" y="1206">HCV infection/HIV</text><text class="m" x="816" y="1217">infection/Inflammation</text>
<text class="s" x="767" y="1263">Aplastic Anemia</text>
<text class="m" x="774" y="1301">Adenoviral</text><text class="m" x="774" y="1312">Keratoconjunctivitis</text>
<text class="s" x="692" y="1331">Atopic Dermatitis</text>
<text class="e" x="638" y="1331">COVID-19</text>
<text class="m" x="546" y="1301">Diabetic Nephropathy /</text><text class="m" x="547" y="1312">Type 2 Diabetes Mellitus</text>
<text class="e" x="562" y="1263">Dry Eye Syndrome (DES)</text>
<text class="m" x="513" y="1206">Cardiovascular Disease</text><text class="m" x="513" y="1217">(CVD)</text>
<text class="e" x="575" y="1162">many cancers</text>
<text class="e" x="612" y="1127">Heart Hypertrophy</text>
</g>
</g>

<g id="panel-D">
<rect class="sh" x="892" y="1040" width="433" height="311"/><rect class="pf" x="891" y="1038" width="433" height="310"/>
<text class="plet" x="1122" y="1021">D</text>
<text class="pt nb" x="1098" y="1052">Resveratrol</text>
<text class="ps" x="1096" y="1066">STATUS: 4,Completed;3, Recruiting;2, Active;1, Unknown</text>
<use href="#leg" x="1106" y="1082"/>
<g transform="translate(1106,1223) scale(0.84)"><use href="#grid"/>
<polygon class="ph" points="0,-100 46.5,-88.5 61.7,-42.6 74.5,-9 46.8,17.7 33.2,37.4 12,48.5 -12,48.5 -33.2,37.4 -23.4,8.9 -24.8,-3 -20.6,-14.2 -23.2,-44.3"/>
<polygon class="st" points="0,-100 11.6,-22.1 61.7,-42.6 74.5,-9 93.5,35.5 66.3,74.9 23.9,97.1 -23.9,97.1 -49.7,56.1 -93.5,35.5 -99.3,-12 -82.3,-56.8 -46.5,-88.5"/>
<circle class="dz" r="3.2"/></g>
<g class="al">
<text class="m" x="1106" y="1129">Allergic Rhinitis (Disorder)</text>
<text class="s" x="1147" y="1146">PCOS, Insulin Resistance</text>
<text class="s" x="1179" y="1173">Dyslipidemia</text>
<text class="m" x="1242" y="1207">Peripheral Arterial Disease</text><text class="m" x="1242" y="1218">(PAD)</text>
<text class="m" x="1236" y="1248">Dyslipidemia / Resistance,</text><text class="m" x="1236" y="1259">Insulin</text>
<text class="m" x="1213" y="1282">Mitochondrial Functions /</text><text class="m" x="1213" y="1293">Physical Functions</text>
<text class="m" x="1163" y="1302">Diabetes / Obesity</text><text class="m" x="1163" y="1313">(Disorder)</text>
<text class="e" x="1087" y="1307">Syndrome, Metabolic</text>
<text class="m" x="1005" y="1282">Congestive Heart Failure</text><text class="m" x="1005" y="1293">Chronic</text>
<text class="m" x="992" y="1248">Heart Failure With</text><text class="m" x="993" y="1259">Preserved Ejection...</text>
<text class="e" x="1023" y="1212">Malignancies</text>
<text class="m" x="993" y="1168">Healthy, no Evidence of</text><text class="m" x="993" y="1179">Disease</text>
<text class="e" x="1068" y="1146">Sedentary Lifestyle</text>
</g>
</g>

<g id="panel-E">
<rect class="sh" x="1336" y="1040" width="433" height="311"/><rect class="pf" x="1335" y="1038" width="433" height="310"/>
<text class="plet" x="1553" y="1021">E</text>
<text class="pt" x="1553" y="1053">Vitamin E</text>
<text class="ps" x="1553" y="1068">STATUS: 4,Completed;3, Recruiting;2, Active;1, Unknown</text>
<use href="#leg" x="1553" y="1083"/>
<g transform="translate(1551,1224) scale(1.06)"><use href="#grid"/>
<polygon class="ph" points="0,-100 46.5,-88.5 82.3,-56.8 24.8,-3 93.5,35.5 66.3,74.9 23.9,97.1 -18,72.8 -49.7,56.1 -70.1,26.6 -74.5,-9 -82.3,-56.8 -23.2,-44.3"/>
<polygon class="st" points="0,-100 46.5,-88.5 82.3,-56.8 99.3,-12 70.1,26.6 49.7,56.1 6,24.3 -23.9,97.1 -66.3,74.9 -93.5,35.5 -99.3,-12 -20.6,-14.2 -34.9,-66.4"/>
<circle class="dz" r="2.8"/></g>
<g class="al">
<text class="m" x="1553" y="1109">Neonatal Asphyxia/Pain</text>
<text class="m" x="1649" y="1122">Diabetic Macular Edema</text><text class="m" x="1649" y="1133">(DME)</text>
<text class="m" x="1681" y="1157">Obesity, Adolescent /</text><text class="m" x="1681" y="1168">Stress Oxidative</text>
<text class="s" x="1660" y="1211">COVID-19</text>
<text class="m" x="1701" y="1258">Coronary Artery Disease</text><text class="m" x="1701" y="1269">(CAD)</text>
<text class="s" x="1623" y="1306">Vasospastic Angina</text>
<text class="m" x="1623" y="1325">Diabetes Mellitus /</text><text class="m" x="1623" y="1336">Dyslipidemia / Fatty Liver</text>
<text class="m" x="1485" y="1325">Cardiovascular Disease</text><text class="m" x="1485" y="1336">(CVD) / Cerebrovascular...</text>
<text class="e" x="1479" y="1306">Many cancers</text>
<text class="e" x="1450" y="1263">Surgical Site Infections</text>
<text class="m" x="1403" y="1206">Chronic Heart Failure</text><text class="m" x="1406" y="1217">(CHF)/Myocardial...</text>
<text class="m" x="1427" y="1157">Hepatic Steatosis /</text><text class="m" x="1427" y="1168">Hepatitis B Chronic</text>
<text class="m" x="1476" y="1127">HIV infection</text>
</g>
</g>

<!-- Row 2 -->
<g id="panel-F">
<rect class="sh" x="5" y="1417" width="432" height="311"/><rect class="pf" x="4" y="1415" width="432" height="310"/>
<text class="plet" x="206" y="1399">F</text>
<text class="pt" x="220" y="1430">Acetaminophen</text>
<text class="ps" x="220" y="1445">STATUS: 4,Completed;3, Recruiting;2, Active;1, Unknown</text>
<use href="#leg" x="220" y="1460"/>
<g transform="translate(219,1602) scale(1.06)"><use href="#grid"/>
<polygon class="ph" points="0,-100 46.5,-88.5 82.3,-56.8 99.3,-12 93.5,35.5 66.3,74.9 23.9,97.1 -18,72.8 -66.3,74.9 -93.5,35.5 -74.5,-9 -61.7,-42.6 -34.9,-66.4"/>
<polygon class="st" points="0,-100 46.5,-88.5 82.3,-56.8 99.3,-12 93.5,35.5 66.3,74.9 23.9,97.1 -18,72.8 -66.3,74.9 -93.5,35.5 -99.3,-12 -82.3,-56.8 -46.5,-88.5"/>
<circle class="dz" r="2.8"/></g>
<g class="al">
<text class="m" x="219" y="1487">Fever/Shivering/Pain</text>
<text class="m" x="303" y="1499">Common Cold / Flu caused</text><text class="m" x="303" y="1510">by Influenza</text>
<text class="s" x="312" y="1539">Alcohol Abuse</text>
<text class="s" x="327" y="1589">Obesity/Osteoporosis</text>
<text class="s" x="323" y="1640">Osteoarthritis of the Knee</text>
<text class="s" x="294" y="1683">Type 2 Diabetes Mellitus</text>
<text class="m" x="245" y="1703">Healthy Subjects</text><text class="m" x="245" y="1714">(HS)/Safety Issues</text>
<text class="m" x="175" y="1707">COVID-19</text>
<text class="e" x="151" y="1683">Various Infections</text>
<text class="m" x="78" y="1634">High Blood Pressure</text><text class="m" x="78" y="1645">(Hypertension)</text>
<text class="m" x="74" y="1583">ST Segment Elevation</text><text class="m" x="74" y="1594">Myocardial Infarction</text>
<text class="m" x="89" y="1532">Cardiovascular Disease</text><text class="m" x="89" y="1543">(CVD)</text>
<text class="e" x="171" y="1504">Coronary Arteriosclerosis</text>
</g>
</g>

<g id="panel-G">
<rect class="sh" x="449" y="1417" width="433" height="311"/><rect class="pf" x="448" y="1415" width="433" height="310"/>
<text class="plet" x="676" y="1399">G</text>
<text class="pt" x="664" y="1430">Sodium Selenite</text>
<text class="ps" x="664" y="1445">STATUS: 4,Completed;3, Recruiting;2, Active;1, Unknown</text>
<use href="#leg" x="664" y="1460"/>
<g transform="translate(664,1602) scale(1.06)"><use href="#grid"/>
<polyline class="ph" points="0,-100 34.9,-66.4 82.3,-56.8 74.5,-9 70.1,26.6 49.7,56.1 12,48.5 -12,48.5"/>
<polyline class="st" points="0,-50 23.2,-44.3 61.7,-42.6 74.5,-9 70.1,26.6 49.7,56.1 12,48.5 -12,48.5"/>
<circle class="dz" r="2.8"/></g>
<g class="al">
<text class="m" x="664" y="1476">Peripartum</text><text class="m" x="664" y="1487">Cardiomyopathy</text>
<text class="m" x="757" y="1499">Cardiovascular Disease</text><text class="m" x="757" y="1510">(CVD)</text>
<text class="m" x="805" y="1534">Acute Abdomen / Critically</text><text class="m" x="805" y="1545">Ill Patients / Sepsis</text>
<text class="s" x="774" y="1589">Arsenic Poisoning</text>
<text class="m" x="794" y="1636">Left Ventricular</text><text class="m" x="794" y="1647">Dysfunction</text>
<text class="m" x="804" y="1679">Septic Shock / Severe</text><text class="m" x="804" y="1690">Sepsis</text>
<text class="m" x="706" y="1707">Cancers</text>
<text class="m" x="619" y="1707">COVID-19</text>
</g>
</g>

<g id="panel-H">
<rect class="sh" x="892" y="1417" width="433" height="311"/><rect class="pf" x="891" y="1415" width="433" height="310"/>
<text class="plet" x="1122" y="1399">H</text>
<text class="pt" x="1108" y="1430">Hydrogen Peroxide</text>
<text class="ps" x="1108" y="1445">STATUS: 4,Completed;3, Recruiting;2, Active;1, Unknown</text>
<use href="#leg" x="1108" y="1460"/>
<g transform="translate(1108,1602) scale(1.06)"><use href="#grid"/>
<polyline class="ph" points="0,-75 34.9,-66.4 61.7,-42.6 74.5,-9 70.1,26.6 49.7,56.1 12,48.5 -33.2,37.4"/>
<polyline class="st" points="0,-100 46.5,-88.5 82.3,-56.8 74.5,-9 93.5,35.5 66.3,74.9 23.9,97.1 -66.3,74.9"/>
<circle class="dz" r="2.8"/></g>
<g class="al">
<text class="m" x="1108" y="1476">Chronic Periodontitis</text><text class="m" x="1108" y="1487">(Disorder)</text>
<text class="s" x="1158" y="1505">Seborrheic Keratosis (SK)</text>
<text class="m" x="1219" y="1531">Sensitivity/Tooth</text><text class="m" x="1219" y="1542">Whitening</text>
<text class="m" x="1245" y="1584">Unilateral Knee</text><text class="m" x="1245" y="1595">Arthroplasty</text>
<text class="s" x="1212" y="1640">COVID-19</text>
<text class="s" x="1162" y="1683">Verruca Vulgaris</text>
<text class="m" x="1149" y="1707">Dermatosis Papulosa Nigra</text>
<text class="m" x="1057" y="1707">Breast Cancer</text>
</g>
</g>

<g id="panel-I">
<rect class="sh" x="1336" y="1417" width="433" height="311"/><rect class="pf" x="1335" y="1415" width="433" height="310"/>
<text class="plet" x="1553" y="1399">I</text>
<text class="pt" x="1553" y="1430">Dihydroartemisinin</text>
<text class="ps" x="1553" y="1445">STATUS: 4,Completed;3, Recruiting;2, Active;1, Unknown</text>
<use href="#leg" x="1553" y="1460"/>
<g transform="translate(1553,1602) scale(1.06)"><use href="#grid"/>
<polyline class="ph" points="0,-100 46.5,-88.5 82.3,-56.8 99.3,-12 93.5,35.5 49.7,56.1"/>
<polyline class="st" points="0,-100 46.5,-88.5 41.2,-28.4 49.6,-6 46.8,17.7 49.7,56.1"/>
<circle class="dz" r="2.8"/></g>
<g class="al">
<text class="m" x="1553" y="1476">Malaria caused by</text><text class="m" x="1553" y="1487">Plasmodium falciparum</text>
<text class="s" x="1600" y="1505">Anemia</text>
<text class="m" x="1679" y="1528">Glucose-6-phosphate</text><text class="m" x="1679" y="1539">dehydrogenase (G-6-PD)</text><text class="m" x="1679" y="1550">deficiency</text>
<text class="s" x="1659" y="1589">COVID-19</text>
<text class="s" x="1654" y="1640">HIV Infections</text>
<text class="m" x="1667" y="1672">Bacterial Vaginoses /</text><text class="m" x="1667" y="1683">Malaria, Pregnancy /</text><text class="m" x="1667" y="1694">Trichomonas Vaginitis</text>
</g>
</g>

<!-- Row 3 -->
<g id="panel-J">
<rect class="sh" x="5" y="1794" width="432" height="313"/><rect class="pf" x="4" y="1792" width="432" height="312"/>
<text class="plet" x="206" y="1775">J</text>
<text class="pt" x="220" y="1807">Doxorubicin</text>
<text class="ps" x="220" y="1822">STATUS: 4,Completed;3, Recruiting;2, Active;1, Unknown</text>
<use href="#leg" x="220" y="1838"/>
<g transform="translate(219,1981) scale(0.956)"><use href="#grid"/>
<polyline class="ph" points="0,-100 46.5,-88.5 61.7,-42.6"/>
<polyline class="st" points="0,-100 46.5,-88.5"/>
<circle class="dz" r="2.8"/></g>
<g class="al">
<text class="m" x="215" y="1874">Lots of cancers</text>
<text class="s" x="265" y="1893">HIV infections</text>
<text class="s" x="299" y="1925">Toxicity, Cardiac</text>
</g>
</g>

<g id="panel-K">
<rect class="sh" x="449" y="1794" width="433" height="313"/><rect class="pf" x="448" y="1792" width="433" height="312"/>
<text class="plet" x="676" y="1775">K</text>
<text class="pt" x="664" y="1807">Arsenic trioxide</text>
<text class="ps" x="664" y="1822">STATUS: 4,Completed;3, Recruiting;2, Active;1, Unknown</text>
<use href="#leg" x="664" y="1838"/>
<g transform="translate(664,1981) scale(0.956)"><use href="#grid"/>
<polyline class="ph" points="0,-100 11.6,-22.1 20.6,-14.2"/>
<polyline class="st" points="0,-75 46.5,-88.5 61.7,-42.6"/>
<circle class="dz" r="2.8"/></g>
<g class="al">
<text class="m" x="662" y="1874">Acute Promyelocytic</text><text class="m" x="662" y="1885">Leukemia (APL)</text>
<text class="s" x="703" y="1903">Many cancers</text>
<text class="s" x="734" y="1931">HIV infections</text>
</g>
</g>

<g id="panel-L">
<rect class="sh" x="892" y="1794" width="433" height="313"/><rect class="pf" x="891" y="1792" width="433" height="312"/>
<text class="plet" x="1122" y="1775">L</text>
<text class="pt" x="1108" y="1807">Vinblastine</text>
<text class="ps" x="1108" y="1822">STATUS: 4,Completed;3, Recruiting;2, Active;1, Unknown</text>
<use href="#leg" x="1108" y="1838"/>
<g transform="translate(1108,1981) scale(0.956)"><use href="#grid"/>
<polyline class="ph" points="0,-75 23.2,-44.3"/>
<polyline class="st" points="0,-100 23.2,-44.3"/>
<circle class="dz" r="2.8"/></g>
<g class="al">
<text class="m" x="1108" y="1865">Lots of cancers</text>
<text class="s" x="1158" y="1882">HIV Infections</text>
</g>
</g>
</svg>
